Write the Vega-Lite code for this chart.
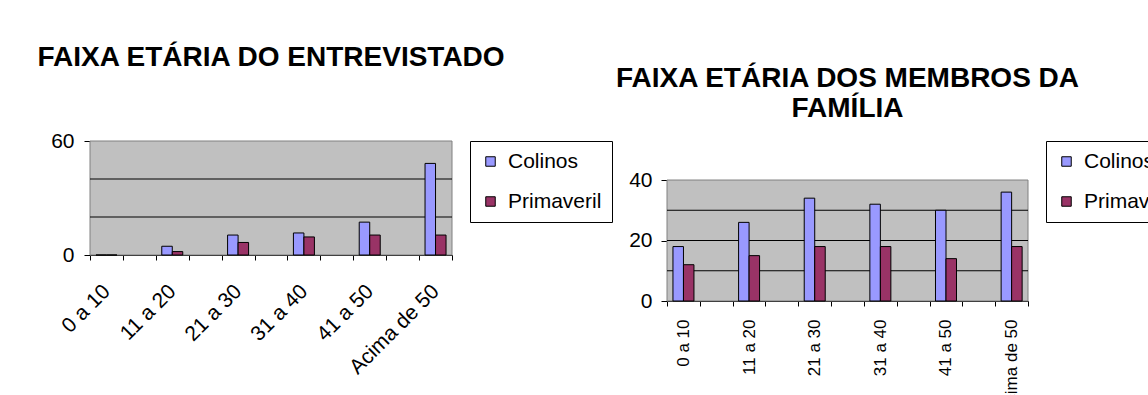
{
  "$schema": "https://vega.github.io/schema/vega-lite/v6.json",
  "padding": {"left": 36, "top": 44, "right": 0, "bottom": 0},
  "bounds": "flush",
  "spacing": 215,
  "background": "white",
  "datasets": {
    "ent": [
      {"faixa": "0 a 10", "serie": "Colinos", "valor": 0},
      {"faixa": "0 a 10", "serie": "Primaveril", "valor": 0},
      {"faixa": "11 a 20", "serie": "Colinos", "valor": 4.6},
      {"faixa": "11 a 20", "serie": "Primaveril", "valor": 1.8},
      {"faixa": "21 a 30", "serie": "Colinos", "valor": 10.5},
      {"faixa": "21 a 30", "serie": "Primaveril", "valor": 6.6},
      {"faixa": "31 a 40", "serie": "Colinos", "valor": 11.6},
      {"faixa": "31 a 40", "serie": "Primaveril", "valor": 9.5},
      {"faixa": "41 a 50", "serie": "Colinos", "valor": 17.3},
      {"faixa": "41 a 50", "serie": "Primaveril", "valor": 10.5},
      {"faixa": "Acima de 50", "serie": "Colinos", "valor": 48.2},
      {"faixa": "Acima de 50", "serie": "Primaveril", "valor": 10.5}
    ],
    "fam": [
      {"faixa": "0 a 10", "serie": "Colinos", "valor": 18},
      {"faixa": "0 a 10", "serie": "Primaveril", "valor": 12},
      {"faixa": "11 a 20", "serie": "Colinos", "valor": 26},
      {"faixa": "11 a 20", "serie": "Primaveril", "valor": 15},
      {"faixa": "21 a 30", "serie": "Colinos", "valor": 34},
      {"faixa": "21 a 30", "serie": "Primaveril", "valor": 18},
      {"faixa": "31 a 40", "serie": "Colinos", "valor": 32},
      {"faixa": "31 a 40", "serie": "Primaveril", "valor": 18},
      {"faixa": "41 a 50", "serie": "Colinos", "valor": 30},
      {"faixa": "41 a 50", "serie": "Primaveril", "valor": 14},
      {"faixa": "Acima de 50", "serie": "Colinos", "valor": 36},
      {"faixa": "Acima de 50", "serie": "Primaveril", "valor": 18}
    ]
  },
  "hconcat": [
    {
      "width": 362,
      "height": 114,
      "title": {"text": "FAIXA ETÁRIA DO ENTREVISTADO", "fontSize": 28, "fontWeight": "bold", "color": "black", "anchor": "middle", "offset": 58},
      "data": {"name": "ent"},
      "layer": [
        {
          "data": {"values": [{"k": 1}]},
          "mark": {"type": "rect", "fill": "#c0c0c0", "stroke": "#808080", "strokeWidth": 1},
          "encoding": {
            "y": {"datum": 0, "type": "quantitative", "scale": {"domain": [0, 60], "nice": false}},
            "y2": {"datum": 60}
          }
        },
        {
          "data": {"values": [{"g": 20}, {"g": 40}]},
          "mark": {"type": "rule", "color": "black", "strokeWidth": 1},
          "encoding": {
            "y": {"field": "g", "type": "quantitative", "scale": {"domain": [0, 60], "nice": false}}
          }
        },
        {
          "mark": {"type": "bar", "stroke": "black", "strokeWidth": 1},
          "encoding": {
            "x": {"field": "faixa", "type": "nominal",
              "scale": {"domain": ["0 a 10", " ", "11 a 20", "  ", "21 a 30", "   ", "31 a 40", "    ", "41 a 50", "     ", "Acima de 50"], "paddingInner": 0, "paddingOuter": 0},
              "axis": {"orient": "bottom", "domainColor": "black", "tickBand": "extent", "tickSize": 5, "tickColor": "black", "labelAngle": -45, "labelAlign": "right", "labelBaseline": "middle", "labelPadding": 28, "labelFontSize": 21, "labelColor": "black", "title": null}},
            "xOffset": {"field": "serie", "type": "nominal", "scale": {"paddingInner": 0, "paddingOuter": 0.567}},
            "y": {"field": "valor", "type": "quantitative", "stack": null,
              "scale": {"domain": [0, 60], "nice": false},
              "axis": {"orient": "left", "domain": false, "values": [0, 20, 40, 60], "tickSize": 6, "tickColor": "black", "labelPadding": 10, "labelFontSize": 21, "labelColor": "black", "grid": false, "title": null}},
            "color": {"field": "serie", "type": "nominal",
              "scale": {"domain": ["Colinos", "Primaveril"], "range": ["#9999ff", "#993366"]},
              "legend": {"title": null, "strokeColor": "black", "fillColor": "white", "padding": 10, "symbolType": "square", "symbolSize": 90, "symbolStrokeColor": "black", "symbolStrokeWidth": 1, "labelFontSize": 21, "labelColor": "black", "rowPadding": 18, "labelOffset": 7}}
          }
        }
      ]
    },
    {
      "width": 361,
      "height": 160,
      "title": {"text": ["FAIXA ETÁRIA DOS MEMBROS DA", "FAMÍLIA"], "fontSize": 28, "fontWeight": "bold", "color": "black", "anchor": "middle", "offset": 18},
      "data": {"name": "fam"},
      "layer": [
        {
          "data": {"values": [{"k": 1}]},
          "mark": {"type": "rect", "fill": "#c0c0c0", "stroke": "#808080", "strokeWidth": 1},
          "encoding": {
            "y": {"datum": 0, "type": "quantitative", "scale": {"domain": [0, 52.9], "nice": false}},
            "y2": {"datum": 40}
          }
        },
        {
          "data": {"values": [{"g": 10}, {"g": 20}, {"g": 30}]},
          "mark": {"type": "rule", "color": "black", "strokeWidth": 1},
          "encoding": {
            "y": {"field": "g", "type": "quantitative", "scale": {"domain": [0, 52.9], "nice": false}}
          }
        },
        {
          "mark": {"type": "bar", "stroke": "black", "strokeWidth": 1},
          "encoding": {
            "x": {"field": "faixa", "type": "nominal",
              "scale": {"domain": ["0 a 10", " ", "11 a 20", "  ", "21 a 30", "   ", "31 a 40", "    ", "41 a 50", "     ", "Acima de 50"], "paddingInner": 0, "paddingOuter": 0},
              "axis": {"orient": "bottom", "domainColor": "black", "tickBand": "extent", "tickSize": 5, "tickColor": "black", "labelAngle": -90, "labelAlign": "right", "labelBaseline": "middle", "labelPadding": 13, "labelFontSize": 17, "labelColor": "black", "title": null}},
            "xOffset": {"field": "serie", "type": "nominal", "scale": {"paddingInner": 0, "paddingOuter": 0.567}},
            "y": {"field": "valor", "type": "quantitative", "stack": null,
              "scale": {"domain": [0, 52.9], "nice": false},
              "axis": {"orient": "left", "domain": false, "values": [0, 10, 20, 30, 40], "tickSize": 6, "tickColor": "black", "labelPadding": 9, "labelFontSize": 21, "labelColor": "black", "grid": false, "title": null}},
            "color": {"field": "serie", "type": "nominal",
              "scale": {"domain": ["Colinos", "Primaveril"], "range": ["#9999ff", "#993366"]},
              "legend": {"title": null, "strokeColor": "black", "fillColor": "white", "padding": 10, "symbolType": "square", "symbolSize": 90, "symbolStrokeColor": "black", "symbolStrokeWidth": 1, "labelFontSize": 21, "labelColor": "black", "rowPadding": 18, "labelOffset": 7}}
          }
        }
      ]
    }
  ],
  "resolve": {"scale": {"color": "independent"}, "legend": {"color": "independent"}},
  "config": {
    "view": {"stroke": null},
    "font": "Liberation Sans Narrow, Liberation Sans, sans-serif"
  }
}
